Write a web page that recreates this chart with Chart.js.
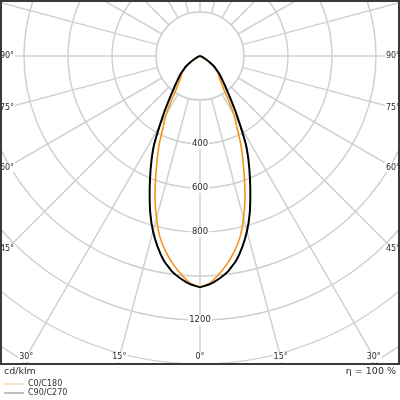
<!DOCTYPE html>
<html>
<head>
<meta charset="utf-8">
<script src="https://cdn.jsdelivr.net/npm/chart.js@4.4.0/dist/chart.umd.min.js"></script>
<style>
html, body { margin: 0; padding: 0; background: #fff; }
#wrap { width: 400px; height: 400px; }
</style>
</head>
<body>
<div id="wrap"><canvas id="ldc" width="400" height="400"></canvas></div>
<script>
// Gamma angles (deg from nadir) and intensity in cd/klm
const gammaAngles = [0, 2.5, 5, 7.5, 10, 12.5, 15, 17.5, 20, 22.5, 25, 27.5, 30, 32.5, 35, 37.5,
    40, 42.5, 45, 47.5, 50, 52.5, 55, 57.5, 60, 65, 70, 75, 80, 90];
const c0c180 = [1049, 1033, 995, 952, 901, 842, 764, 681, 590, 509, 436, 362, 309, 246, 194, 166,
    141, 129, 118, 108, 97, 84, 69, 50, 32, 15, 5, 0, 0, 0];
const c90c270 = [1051, 1038, 1015, 986, 945, 889, 825, 751, 669, 592, 521, 450, 367, 303, 249, 207,
    178, 153, 135, 118, 99, 85, 69, 50, 32, 15, 5, 0, 0, 0];

// Grid
const ringValues = [200, 400, 600, 800, 1000, 1200, 1400, 1600, 1800, 2000, 2200];
const ringLabels = [400, 600, 800, 1200];
const spokeAngles = [0, 15, 30, 45, 60, 75, 90, 105, 120, 135, 150, 165, 180,
    195, 210, 225, 240, 255, 270, 285, 300, 315, 330, 345];
const sideLabels = [90, 75, 60, 45];
const bottomLabels = [30, 15, 0];

const FONT = "DejaVu Sans";
const rad = (d) => (d * Math.PI) / 180;

// turn one C-plane pair into x/y points: left half then right half
function toPoints(vals) {
    const pts = [];
    for (let i = gammaAngles.length - 1; i >= 0; i--) {
        const g = rad(-gammaAngles[i]);
        pts.push({ x: vals[i] * Math.sin(g), y: -vals[i] * Math.cos(g) });
    }
    for (let i = 1; i < gammaAngles.length; i++) {
        const g = rad(gammaAngles[i]);
        pts.push({ x: vals[i] * Math.sin(g), y: -vals[i] * Math.cos(g) });
    }
    return pts;
}

function labelBox(ctx, text, px, py) {
    const w = ctx.measureText(text).width;
    ctx.fillStyle = "#fff";
    ctx.fillRect(px - w / 2 - 1, py - 5, w + 2, 10);
    ctx.fillStyle = "#2a2a2a";
    ctx.fillText(text, px, py);
}

const polarGrid = {
    id: "polarGrid",
    beforeDatasetsDraw(chart) {
        const { ctx, chartArea: a, scales: { x, y } } = chart;
        const cx = x.getPixelForValue(0);
        const cy = y.getPixelForValue(0);
        ctx.save();
        ctx.beginPath();
        ctx.rect(a.left, a.top, a.width, a.height);
        ctx.clip();

        ctx.strokeStyle = "#d0d0d0";
        ctx.lineWidth = 1.5;
        ringValues.forEach((r) => {
            ctx.beginPath();
            ctx.arc(cx, cy, y.getPixelForValue(-r) - cy, 0, 2 * Math.PI);
            ctx.stroke();
        });
        const r0 = ringValues[0];
        const r1 = ringValues[ringValues.length - 1] + 400;
        spokeAngles.forEach((d) => {
            const s = Math.sin(rad(d)), c = Math.cos(rad(d));
            ctx.beginPath();
            ctx.moveTo(x.getPixelForValue(r0 * s), y.getPixelForValue(-r0 * c));
            ctx.lineTo(x.getPixelForValue(r1 * s), y.getPixelForValue(-r1 * c));
            ctx.stroke();
        });

        ctx.font = `8.5px "${FONT}"`;
        ctx.textAlign = "center";
        ctx.textBaseline = "middle";
        ringLabels.forEach((r) => {
            labelBox(ctx, String(r), cx, y.getPixelForValue(-r));
        });

        // angle labels along the frame
        ctx.font = `8px "${FONT}"`;
        const xl = a.left + 6, xr = a.right - 6;
        sideLabels.forEach((d) => {
            const py = cy + (cx - xl) / Math.tan(rad(d));
            labelBox(ctx, d + "°", xl, py);
            labelBox(ctx, d + "°", xr, py);
        });
        const yb = a.bottom - 7;
        bottomLabels.forEach((d) => {
            const off = (yb - cy) * Math.tan(rad(d));
            labelBox(ctx, d + "°", cx - off, yb);
            if (d !== 0) labelBox(ctx, d + "°", cx + off, yb);
        });
        ctx.restore();
    },
    afterDraw(chart) {
        const { ctx, chartArea: a } = chart;
        ctx.save();
        ctx.strokeStyle = "#3a3a3a";
        ctx.lineWidth = 2;
        ctx.strokeRect(a.left, a.top, a.width, a.height);

        ctx.fillStyle = "#2a2a2a";
        ctx.textBaseline = "middle";
        ctx.font = `9.5px "${FONT}"`;
        ctx.textAlign = "left";
        ctx.fillText("cd/klm", 4, a.bottom + 8);
        ctx.textAlign = "right";
        ctx.fillText("η = 100 %", 396, a.bottom + 8);

        // legend
        ctx.font = `8px "${FONT}"`;
        ctx.textAlign = "left";
        chart.data.datasets.forEach((ds, i) => {
            const ly = a.bottom + 20 + i * 9;
            ctx.globalAlpha = 0.5;
            ctx.strokeStyle = ds.borderColor;
            ctx.lineWidth = 1;
            ctx.beginPath();
            ctx.moveTo(4, ly);
            ctx.lineTo(24, ly);
            ctx.stroke();
            ctx.globalAlpha = 1;
            ctx.fillStyle = "#333";
            ctx.fillText(ds.label, 28, ly);
        });
        ctx.restore();
    },
};

const ldcChart = new Chart(document.getElementById("ldc"), {
    type: "scatter",
    data: {
        datasets: [
            {
                label: "C0/C180",
                data: toPoints(c0c180),
                borderColor: "#f39419",
                borderWidth: 1.6,
                showLine: true,
                pointRadius: 0,
                tension: 0.1,
                borderJoinStyle: "round",
                order: 2,
            },
            {
                label: "C90/C270",
                data: toPoints(c90c270),
                borderColor: "#000000",
                borderWidth: 2,
                showLine: true,
                pointRadius: 0,
                tension: 0.1,
                borderJoinStyle: "round",
                order: 1,
            },
        ],
    },
    options: {
        responsive: false,
        animation: false,
        layout: { padding: { left: 1, right: 1, top: 1, bottom: 36 } },
        scales: {
            x: { type: "linear", min: -904.5, max: 904.5, display: false },
            y: { type: "linear", min: -1400, max: 250, display: false },
        },
        plugins: { legend: { display: false }, tooltip: { enabled: false } },
    },
    plugins: [polarGrid],
});
</script>
</body>
</html>
